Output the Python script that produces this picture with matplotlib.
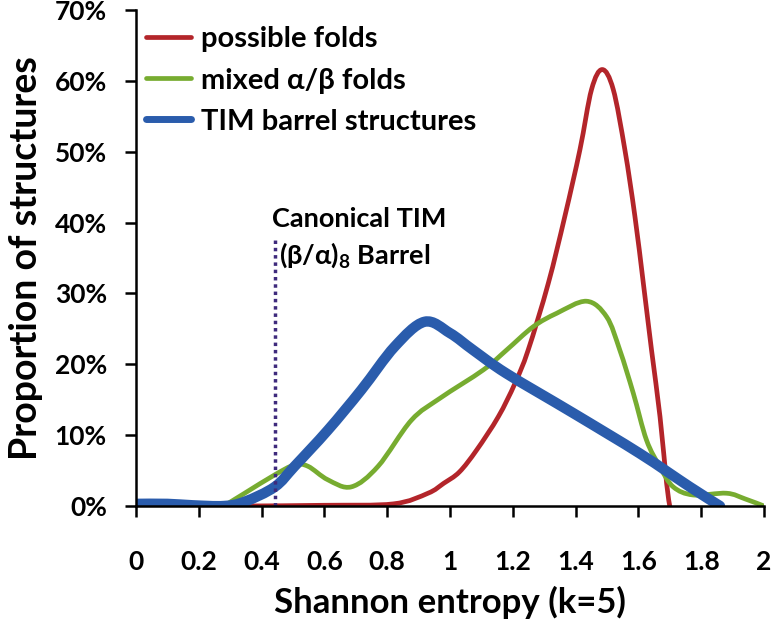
import matplotlib
matplotlib.use('Agg')
import matplotlib.pyplot as plt
from matplotlib.path import Path
from matplotlib.patches import PathPatch
from matplotlib.lines import Line2D
from matplotlib.ticker import FuncFormatter

plt.rcParams['font.family'] = ['Lato', 'DejaVu Sans']
plt.rcParams['font.weight'] = 'bold'
plt.rcParams['axes.labelweight'] = 'bold'

# ── Data ──────────────────────────────────────────────────────
possible_x = [0.36, 0.6, 0.82, 0.93, 0.98, 1.03, 1.085, 1.154, 1.207, 1.249,
              1.313, 1.366, 1.414, 1.451, 1.485, 1.52, 1.557, 1.589, 1.616,
              1.642, 1.669, 1.69, 1.70]
possible_y = [0, 0.1, 0.3, 1.8, 3.2, 4.8, 7.9, 12.6, 17.3, 22,
              31.4, 40.9, 50.3, 58.8, 61.6, 58.8, 50.3, 40.9, 31.4,
              22, 12.6, 3.2, 0]

mixed_x = [0.28, 0.346, 0.442, 0.505, 0.548, 0.611, 0.686, 0.771,
           0.877, 0.968, 1.106, 1.18, 1.265, 1.34, 1.435,
           1.499, 1.541, 1.584, 1.626, 1.669, 1.711, 1.775,
           1.881, 1.94, 2.0]
mixed_y = [0, 1.8, 4.4, 5.8, 5.6, 3.7, 2.7, 5.6,
           12.1, 15.2, 19.2, 22, 25.3, 27.2, 28.9,
           26.7, 22, 15.9, 9.3, 5.5, 2.7, 1.55,
           1.8, 1.0, 0]

tim_x = [0, 0.1, 0.18, 0.28, 0.346, 0.442, 0.505, 0.611,
         0.718, 0.824, 0.919, 1.0, 1.074, 1.18,
         1.393, 1.605, 1.764, 1.86]
tim_y = [0.3, 0.3, 0.1, 0, 0.6, 2.7, 5.6, 10.7,
         16.4, 22.5, 26.0, 24.4, 22, 18.7,
         13.1, 7.4, 2.7, 0]

canonical_x = 0.442
canonical_top = 37.6

x_ticks = [0, 0.2, 0.4, 0.6, 0.8, 1, 1.2, 1.4, 1.6, 1.8, 2]
y_ticks = [0, 10, 20, 30, 40, 50, 60, 70]


def smooth_path(xs, ys):
    """Excel-style smoothed line: Catmull-Rom through the points as Bezier curves."""
    pts = list(zip(xs, ys))
    verts, codes = [pts[0]], [Path.MOVETO]
    n = len(pts)
    for i in range(n - 1):
        p0 = pts[max(i - 1, 0)]
        p1, p2 = pts[i], pts[i + 1]
        p3 = pts[min(i + 2, n - 1)]
        c1 = (p1[0] + (p2[0] - p0[0]) / 6, p1[1] + (p2[1] - p0[1]) / 6)
        c2 = (p2[0] - (p3[0] - p1[0]) / 6, p2[1] - (p3[1] - p1[1]) / 6)
        verts += [c1, c2, p2]
        codes += [Path.CURVE4] * 3
    return Path(verts, codes)


fig = plt.figure(figsize=(7.74, 6.27), dpi=100)
ax = fig.add_axes([0.1757, 0.193, 0.8113, 0.791])

series = [
    (possible_x, possible_y, '#B3252A', 3.4, 'possible folds'),
    (mixed_x, mixed_y, '#77AC30', 3.4, 'mixed α/β folds'),
    (tim_x, tim_y, '#2A5CAC', 7.5, 'TIM barrel structures'),
]
handles = []
for xs, ys, col, lw, lab in series:
    ax.add_patch(PathPatch(smooth_path(xs, ys), facecolor='none', edgecolor=col,
                           lw=lw, capstyle='round', joinstyle='round'))
    handles.append(Line2D([], [], color=col, lw=3.4 if lw < 5 else 5, label=lab,
                          solid_capstyle='round'))

# canonical TIM barrel marker
ax.plot([canonical_x, canonical_x], [0, canonical_top], color='#3E2A7C',
        lw=2.5, linestyle=(0, (1, 1.1)), dash_capstyle='butt')
ax.text(0.432, 40.5, 'Canonical TIM', fontsize=19.5, ha='left', va='center')
ax.text(0.457, 35.4, r'(β/α)$_\mathregular{8}$ Barrel', fontsize=19.5, ha='left', va='center')

ax.set_xlim(0, 2)
ax.set_ylim(0, 70)
ax.set_xticks(x_ticks)
ax.set_yticks(y_ticks)
ax.xaxis.set_major_formatter(FuncFormatter(lambda v, p: f'{v:g}'))
ax.yaxis.set_major_formatter(FuncFormatter(lambda v, p: f'{v:.0f}%'))

for s in ['top', 'right']:
    ax.spines[s].set_visible(False)
for s in ['left', 'bottom']:
    ax.spines[s].set_linewidth(1.8)
ax.tick_params(axis='both', direction='out', length=8, width=1.8, labelsize=19)
ax.tick_params(axis='x', pad=24)
ax.tick_params(axis='y', pad=13)

ax.set_xlabel('Shannon entropy (k=5)', fontsize=25, labelpad=8)
ax.set_ylabel('Proportion of structures', fontsize=27, labelpad=8)

fig.legend(handles=handles, loc='upper left', bbox_to_anchor=(0.188, 0.958),
           frameon=False, fontsize=21, handlelength=1.55, handletextpad=0.35,
           labelspacing=0.52, borderpad=0, borderaxespad=0)

fig.savefig('out.png', dpi=100)
plt.close(fig)
